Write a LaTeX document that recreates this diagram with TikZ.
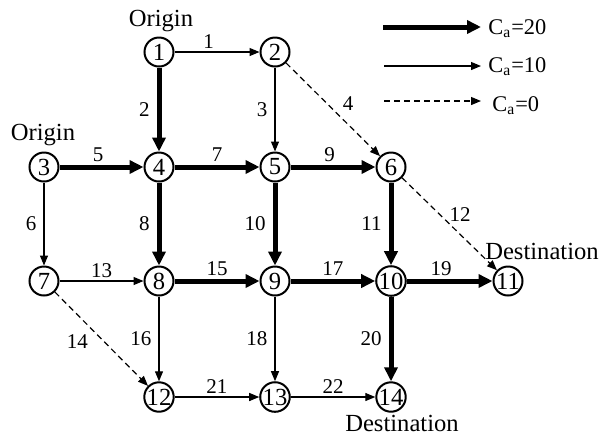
\documentclass[tikz,border=0pt]{standalone}
\usepackage{fontspec}
\setmainfont{Liberation Serif}
\usetikzlibrary{arrows.meta}
\begin{document}
\begin{tikzpicture}[x=0.5pt,y=-0.5pt,
  vtx/.style={circle,draw,line width=1pt,minimum size=14.5pt,inner sep=0pt,
    font=\fontsize{12.3}{12.3}\selectfont},
  heavy/.style={line width=2.5pt,-{Triangle[length=7pt,width=6.5pt]}},
  light/.style={line width=0.6pt,-{Triangle[length=5pt,width=4pt]}},
  empty/.style={line width=0.6pt,dash pattern=on 3pt off 2pt,-{Triangle[length=5pt,width=4pt]}},
  lbl/.style={font=\fontsize{10.5}{10.5}\selectfont,inner sep=1pt},
  tag/.style={font=\fontsize{12.3}{12.3}\selectfont,inner sep=0pt},
  key/.style={font=\fontsize{11.2}{11.2}\selectfont,inner sep=0pt,anchor=base west}]
\useasboundingbox (0,0) rectangle (603,435);

% vertices
\node[vtx] (n1)  at (159,52)  {1};
\node[vtx] (n2)  at (275,52)  {2};
\node[vtx] (n3)  at (44,167)  {3};
\node[vtx] (n4)  at (159,167) {4};
\node[vtx] (n5)  at (275,167) {5};
\node[vtx] (n6)  at (391,167) {6};
\node[vtx] (n7)  at (44,281)  {7};
\node[vtx] (n8)  at (159,281) {8};
\node[vtx] (n9)  at (275,281) {9};
\node[vtx] (n10) at (391,281) {10};
\node[vtx] (n11) at (508,281) {11};
\node[vtx] (n12) at (159,397) {12};
\node[vtx] (n13) at (275,397) {13};
\node[vtx] (n14) at (391,397) {14};

% origins and destinations
\node[tag] (o1) at (161,21)  {Origin};
\node[tag] (o3) at (43,135)  {Origin};
\node[tag] (d11) at (542,251) {Destination};
\node[tag] (d14) at (402,423) {Destination};

% links
\draw[light] (n1) -- node[lbl,pos=.4,above=0.5pt] {1} (n2);
\draw[heavy] (n1) -- node[lbl,midway,left=2.5pt] {2} (n4);
\draw[light] (n2) -- node[lbl,midway,left=2.5pt] {3} (n5);
\draw[empty] (n2) -- node[lbl,midway,xshift=7.5pt,yshift=2.75pt] {4} (n6);
\draw[heavy] (n3) -- node[lbl,pos=.46,above=0.5pt] {5} (n4);
\draw[light] (n3) -- node[lbl,midway,left=2.5pt] {6} (n7);
\draw[heavy] (n4) -- node[lbl,midway,above=0.5pt] {7} (n5);
\draw[heavy] (n4) -- node[lbl,midway,left=2.5pt] {8} (n8);
\draw[heavy] (n5) -- node[lbl,pos=.46,above=0.5pt] {9} (n6);
\draw[heavy] (n5) -- node[lbl,midway,left=2.5pt] {10} (n9);
\draw[heavy] (n6) -- node[lbl,midway,left=2.5pt] {11} (n10);
\draw[empty] (n6) -- node[lbl,midway,xshift=5.25pt,yshift=4.75pt] {12} (n11);
\draw[light] (n7) -- node[lbl,midway,above=0.5pt] {13} (n8);
\draw[empty] (n7) -- node[lbl,midway,xshift=-12pt,yshift=-1.5pt] {14} (n12);
\draw[heavy] (n8) -- node[lbl,midway,above=0.5pt] {15} (n9);
\draw[light] (n8) -- node[lbl,midway,left=2.5pt] {16} (n12);
\draw[heavy] (n9) -- node[lbl,midway,above=0.5pt] {17} (n10);
\draw[light] (n9) -- node[lbl,midway,left=2.5pt] {18} (n13);
\draw[heavy] (n10) -- node[lbl,pos=.4,above=0.5pt] {19} (n11);
\draw[heavy] (n10) -- node[lbl,midway,left=2.5pt] {20} (n14);
\draw[light] (n12) -- node[lbl,midway,above=0.5pt] {21} (n13);
\draw[light] (n13) -- node[lbl,midway,above=0.5pt] {22} (n14);

% legend
\coordinate (k1a) at (383,27);  \coordinate (k1b) at (481,27);
\coordinate (k2a) at (384,66);  \coordinate (k2b) at (481,66);
\coordinate (k3a) at (384,101); \coordinate (k3b) at (481,101);
\draw[heavy] (k1a) -- (k1b);
\draw[light] (k2a) -- (k2b);
\draw[empty] (k3a) -- (k3b);
\node[key] (t1) at (488,34.5) {C\textsubscript{a}=20};
\node[key] (t2) at (488,72.7) {C\textsubscript{a}=10};
\node[key] (t3) at (492,111)  {C\textsubscript{a}=0};
\end{tikzpicture}
\end{document}
